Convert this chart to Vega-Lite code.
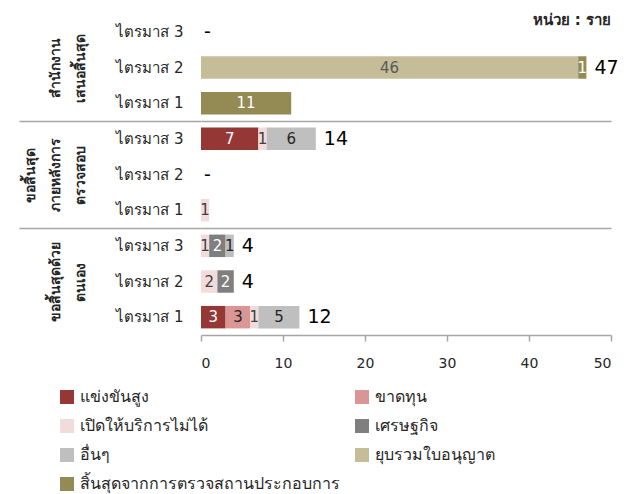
{
  "$schema": "https://vega.github.io/schema/vega-lite/v6.json",
  "width": 410,
  "height": 321,
  "padding": {"left": 18, "top": 13, "right": 5, "bottom": 5},
  "title": {"text": "หน่วย : ราย", "anchor": "end", "frame": "group", "offset": -15, "fontSize": 15, "fontWeight": "bold", "color": "#262626"},
  "datasets": {
    "causes": [
      {"group": "สำนักงาน|เสนอสิ้นสุด", "row": "สำนักงานเสนอสิ้นสุด/ไตรมาส 2", "cause": "ยุบรวมใบอนุญาต", "value": 46},
      {"group": "สำนักงาน|เสนอสิ้นสุด", "row": "สำนักงานเสนอสิ้นสุด/ไตรมาส 2", "cause": "สิ้นสุดจากการตรวจสถานประกอบการ", "value": 1},
      {"group": "สำนักงาน|เสนอสิ้นสุด", "row": "สำนักงานเสนอสิ้นสุด/ไตรมาส 1", "cause": "สิ้นสุดจากการตรวจสถานประกอบการ", "value": 11},
      {"group": "ขอสิ้นสุด|ภายหลังการ|ตรวจสอบ", "row": "ขอสิ้นสุดภายหลังการตรวจสอบ/ไตรมาส 3", "cause": "แข่งขันสูง", "value": 7},
      {"group": "ขอสิ้นสุด|ภายหลังการ|ตรวจสอบ", "row": "ขอสิ้นสุดภายหลังการตรวจสอบ/ไตรมาส 3", "cause": "เปิดให้บริการไม่ได้", "value": 1},
      {"group": "ขอสิ้นสุด|ภายหลังการ|ตรวจสอบ", "row": "ขอสิ้นสุดภายหลังการตรวจสอบ/ไตรมาส 3", "cause": "อื่นๆ", "value": 6},
      {"group": "ขอสิ้นสุด|ภายหลังการ|ตรวจสอบ", "row": "ขอสิ้นสุดภายหลังการตรวจสอบ/ไตรมาส 1", "cause": "เปิดให้บริการไม่ได้", "value": 1},
      {"group": "ขอสิ้นสุดด้วย|ตนเอง", "row": "ขอสิ้นสุดด้วยตนเอง/ไตรมาส 3", "cause": "เปิดให้บริการไม่ได้", "value": 1},
      {"group": "ขอสิ้นสุดด้วย|ตนเอง", "row": "ขอสิ้นสุดด้วยตนเอง/ไตรมาส 3", "cause": "เศรษฐกิจ", "value": 2},
      {"group": "ขอสิ้นสุดด้วย|ตนเอง", "row": "ขอสิ้นสุดด้วยตนเอง/ไตรมาส 3", "cause": "อื่นๆ", "value": 1},
      {"group": "ขอสิ้นสุดด้วย|ตนเอง", "row": "ขอสิ้นสุดด้วยตนเอง/ไตรมาส 2", "cause": "เปิดให้บริการไม่ได้", "value": 2},
      {"group": "ขอสิ้นสุดด้วย|ตนเอง", "row": "ขอสิ้นสุดด้วยตนเอง/ไตรมาส 2", "cause": "เศรษฐกิจ", "value": 2},
      {"group": "ขอสิ้นสุดด้วย|ตนเอง", "row": "ขอสิ้นสุดด้วยตนเอง/ไตรมาส 1", "cause": "แข่งขันสูง", "value": 3},
      {"group": "ขอสิ้นสุดด้วย|ตนเอง", "row": "ขอสิ้นสุดด้วยตนเอง/ไตรมาส 1", "cause": "ขาดทุน", "value": 3},
      {"group": "ขอสิ้นสุดด้วย|ตนเอง", "row": "ขอสิ้นสุดด้วยตนเอง/ไตรมาส 1", "cause": "เปิดให้บริการไม่ได้", "value": 1},
      {"group": "ขอสิ้นสุดด้วย|ตนเอง", "row": "ขอสิ้นสุดด้วยตนเอง/ไตรมาส 1", "cause": "อื่นๆ", "value": 5}
    ],
    "totals": [
      {"row": "สำนักงานเสนอสิ้นสุด/ไตรมาส 3", "total": 0, "label": "-"},
      {"row": "สำนักงานเสนอสิ้นสุด/ไตรมาส 2", "total": 47, "label": "47"},
      {"row": "ขอสิ้นสุดภายหลังการตรวจสอบ/ไตรมาส 3", "total": 14, "label": "14"},
      {"row": "ขอสิ้นสุดภายหลังการตรวจสอบ/ไตรมาส 2", "total": 0, "label": "-"},
      {"row": "ขอสิ้นสุดด้วยตนเอง/ไตรมาส 3", "total": 4, "label": "4"},
      {"row": "ขอสิ้นสุดด้วยตนเอง/ไตรมาส 2", "total": 4, "label": "4"},
      {"row": "ขอสิ้นสุดด้วยตนเอง/ไตรมาส 1", "total": 12, "label": "12"}
    ]
  },
  "layer": [
    {
      "layer": [
        {
          "data": {"name": "causes"},
          "transform": [{"window": [{"op": "row_number", "as": "k"}]}],
          "mark": {"type": "bar"},
          "encoding": {
            "y": {
              "field": "row", "type": "nominal",
              "scale": {
                "domain": ["สำนักงานเสนอสิ้นสุด/ไตรมาส 3", "สำนักงานเสนอสิ้นสุด/ไตรมาส 2", "สำนักงานเสนอสิ้นสุด/ไตรมาส 1", "ขอสิ้นสุดภายหลังการตรวจสอบ/ไตรมาส 3", "ขอสิ้นสุดภายหลังการตรวจสอบ/ไตรมาส 2", "ขอสิ้นสุดภายหลังการตรวจสอบ/ไตรมาส 1", "ขอสิ้นสุดด้วยตนเอง/ไตรมาส 3", "ขอสิ้นสุดด้วยตนเอง/ไตรมาส 2", "ขอสิ้นสุดด้วยตนเอง/ไตรมาส 1"],
                "paddingInner": 0.37, "paddingOuter": 0.185
              },
              "axis": {"title": null, "domain": false, "ticks": false, "labelPadding": 18, "labelExpr": "split(datum.value, '/')[1]", "labelFontSize": 15, "labelColor": "#262626", "labelAlign": "right"}
            },
            "x": {
              "field": "value", "type": "quantitative", "stack": "zero",
              "scale": {"domain": [0, 50], "nice": false},
              "axis": {"title": null, "values": [0, 10, 20, 30, 40, 50], "grid": false, "domainColor": "#A6A6A6", "domainWidth": 1.5, "tickColor": "#A6A6A6", "tickSize": 6, "tickWidth": 1.5, "labelFontSize": 14, "labelPadding": 15, "labelColor": "#262626"}
            },
            "order": {"field": "k", "type": "quantitative"},
            "color": {
              "field": "cause", "type": "nominal",
              "scale": {
                "domain": ["แข่งขันสูง", "ขาดทุน", "เปิดให้บริการไม่ได้", "เศรษฐกิจ", "อื่นๆ", "ยุบรวมใบอนุญาต", "สิ้นสุดจากการตรวจสถานประกอบการ"],
                "range": ["#953735", "#D99694", "#F2DCDB", "#7F7F7F", "#BFBFBF", "#C4BD97", "#948A54"]
              },
              "legend": {"orient": "none", "legendX": -142, "legendY": 375, "direction": "horizontal", "columns": 2, "title": null, "symbolType": "square", "symbolSize": 196, "symbolStrokeWidth": 0, "labelFontSize": 16, "labelColor": "#262626", "rowPadding": 13, "columnPadding": 14, "labelOffset": 5, "padding": 0, "labelLimit": 400}
            }
          }
        },
        {
          "data": {"name": "causes"},
          "transform": [{"window": [{"op": "row_number", "as": "k"}]}],
          "mark": {"type": "text", "fontSize": 15},
          "encoding": {
            "y": {"field": "row", "type": "nominal"},
            "x": {"field": "value", "type": "quantitative", "stack": "zero", "bandPosition": 0.5},
            "order": {"field": "k", "type": "quantitative"},
            "text": {"field": "value", "type": "quantitative"},
            "color": {
              "field": "cause", "type": "nominal",
              "scale": {
                "domain": ["แข่งขันสูง", "ขาดทุน", "เปิดให้บริการไม่ได้", "เศรษฐกิจ", "อื่นๆ", "ยุบรวมใบอนุญาต", "สิ้นสุดจากการตรวจสถานประกอบการ"],
                "range": ["#FFFFFF", "#262626", "#404040", "#FFFFFF", "#262626", "#595959", "#FFFFFF"]
              },
              "legend": null
            }
          }
        },
        {
          "data": {"name": "totals"},
          "transform": [{"filter": "datum.total > 0"}],
          "mark": {"type": "text", "fontSize": 19, "align": "left", "dx": 8, "color": "#000000"},
          "encoding": {
            "y": {"field": "row", "type": "nominal"},
            "x": {"field": "total", "type": "quantitative"},
            "text": {"field": "label", "type": "nominal"}
          }
        },
        {
          "data": {"name": "totals"},
          "transform": [{"filter": "datum.total === 0"}],
          "mark": {"type": "text", "fontSize": 19, "align": "left", "dx": 3, "color": "#000000"},
          "encoding": {
            "y": {"field": "row", "type": "nominal"},
            "x": {"field": "total", "type": "quantitative"},
            "text": {"field": "label", "type": "nominal"}
          }
        }
      ],
      "resolve": {"scale": {"color": "independent"}}
    },
    {
      "data": {"name": "causes"},
      "mark": {"type": "point", "opacity": 0},
      "encoding": {
        "y": {
          "field": "group", "type": "nominal",
          "scale": {"type": "band", "domain": ["สำนักงาน|เสนอสิ้นสุด", "ขอสิ้นสุด|ภายหลังการ|ตรวจสอบ", "ขอสิ้นสุดด้วย|ตนเอง"], "paddingInner": 0, "paddingOuter": 0},
          "axis": {
            "orient": "left", "title": null, "domain": false, "ticks": true, "tickBand": "extent", "tickSize": 182, "tickWidth": 1.5,
            "tickColor": {"condition": {"test": "datum.value === 'สำนักงาน|เสนอสิ้นสุด' || datum.value === 'ขอสิ้นสุด|ภายหลังการ|ตรวจสอบ'", "value": "#A6A6A6"}, "value": "transparent"},
            "grid": true, "gridWidth": 1.5,
            "gridColor": {"condition": {"test": "datum.value === 'สำนักงาน|เสนอสิ้นสุด' || datum.value === 'ขอสิ้นสุด|ภายหลังการ|ตรวจสอบ'", "value": "#A6A6A6"}, "value": "transparent"},
            "labelAngle": -90, "labelAlign": "center", "labelBaseline": "bottom", "labelPadding": -18,
            "labelExpr": "datum.value ? (length(split(datum.value, '|')) < 3 ? split('|' + datum.value, '|') : split(datum.value, '|')) : ''",
            "labelFontSize": 14, "labelFontWeight": "bold", "labelLineHeight": 25, "labelColor": "#262626"
          }
        }
      }
    }
  ],
  "resolve": {"scale": {"y": "independent"}, "axis": {"y": "independent"}},
  "config": {"view": {"stroke": null}, "font": "DejaVu Sans"}
}
